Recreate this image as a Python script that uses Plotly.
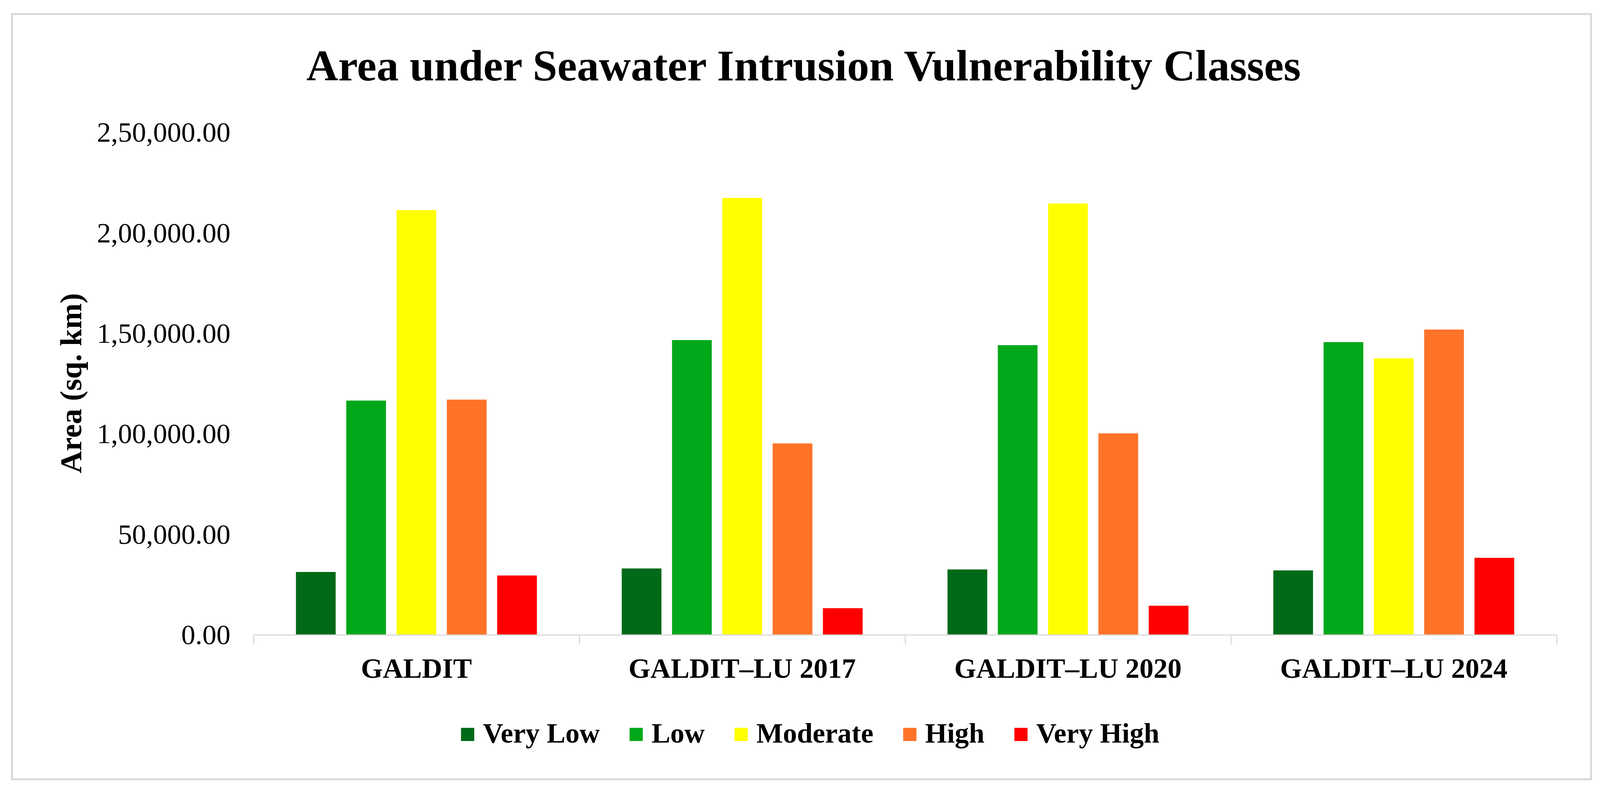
import plotly.graph_objects as go

# ---------------- data ----------------
categories = ["GALDIT", "GALDIT–LU 2017", "GALDIT–LU 2020", "GALDIT–LU 2024"]
class_names = ["Very Low", "Low", "Moderate", "High", "Very High"]
very_low = [31100, 32850, 32350, 31850]
low = [116350, 146450, 143950, 145450]
moderate = [211100, 217150, 214400, 137400]
high = [116850, 95050, 100050, 151700]
very_high = [29350, 13050, 14300, 38100]
series_values = [very_low, low, moderate, high, very_high]
class_colors = ["#006a18", "#00a81a", "#ffff00", "#ff7329", "#ff0000"]
y_tick_values = [0, 50000, 100000, 150000, 200000, 250000]
y_tick_labels = ["0.00", "50,000.00", "1,00,000.00", "1,50,000.00", "2,00,000.00", "2,50,000.00"]

title_text = "Area under Seawater Intrusion Vulnerability Classes"
y_title = "Area (sq. km)"

FONT = "Liberation Serif, Times New Roman, serif"
# the browser viewport is 4096 px wide; reference layout measured on 4273 px
REF_W = 4273
W, H = 4096, 2026
SX = W / REF_W


def sx(px):
    return px * SX


L = round(sx(677))
R = W - round(sx(4157))
T, B = 338, H - 1625
PW, PH = W - L - R, H - T - B


def px_to_paper_x(px_ref):
    return (sx(px_ref) - L) / PW


def px_to_paper_y(py):
    return (H - B - py) / PH


fig = go.Figure()
for name, vals, col in zip(class_names, series_values, class_colors):
    fig.add_trace(go.Bar(
        x=categories, y=vals, name=name,
        marker=dict(color=col, line=dict(width=0)),
        showlegend=False,
    ))

gap = "&nbsp;" * 4
legend_parts = []
for name, col in zip(class_names, class_colors):
    legend_parts.append(
        f"<span style='color:{col};font-size:70px'>■</span>&nbsp;<b>{name}</b>"
    )
legend_text = gap.join(legend_parts)

fig.add_annotation(
    text=legend_text, xref="paper", yref="paper",
    x=px_to_paper_x(2162), y=px_to_paper_y(1878),
    xanchor="center", yanchor="middle", showarrow=False,
    font=dict(family=FONT, size=72, color="#000000"),
)

# outer chart frame
fig.add_shape(
    type="rect", xref="paper", yref="paper",
    x0=px_to_paper_x(32), x1=px_to_paper_x(4249),
    y0=px_to_paper_y(1996), y1=px_to_paper_y(36),
    line=dict(color="#d9d9d9", width=5), fillcolor="rgba(0,0,0,0)",
    layer="below",
)

fig.update_layout(
    width=W, height=H,
    margin=dict(l=L, r=R, t=T, b=B, pad=0),
    paper_bgcolor="white", plot_bgcolor="white",
    barmode="group", bargap=0.228, bargroupgap=0.21,
    font=dict(family=FONT, color="#000000"),
    title=dict(
        text=f"<b>{title_text}</b>", xref="container", yref="container",
        x=sx(2146) / W, y=1 - 166 / H, xanchor="center", yanchor="middle",
        font=dict(family=FONT, size=113, color="#000000"),
    ),
    showlegend=False,
)

fig.update_xaxes(
    type="category", showgrid=False, zeroline=False,
    showline=True, linecolor="#d9d9d9", linewidth=3,
    ticks="outside", tickson="boundaries", ticklen=23,
    tickcolor="#d9d9d9", tickwidth=3,
    tickfont=dict(family=FONT, size=72, color="#000000", weight="bold"),
    ticklabelstandoff=22,
)

fig.update_yaxes(
    range=[0, 250000], showgrid=False, zeroline=False, showline=False,
    tickmode="array", tickvals=y_tick_values, ticktext=y_tick_labels,
    ticks="", tickfont=dict(family=FONT, size=72, color="#000000"),
    ticklabelstandoff=58,
    title=dict(text=f"<b>{y_title}</b>", font=dict(family=FONT, size=79, color="#000000"),
               standoff=13),
)

fig.write_html(
    "out.html",
    config={"displayModeBar": False},
    post_script="document.body.style.margin='0';document.body.style.overflow='hidden';",
)
